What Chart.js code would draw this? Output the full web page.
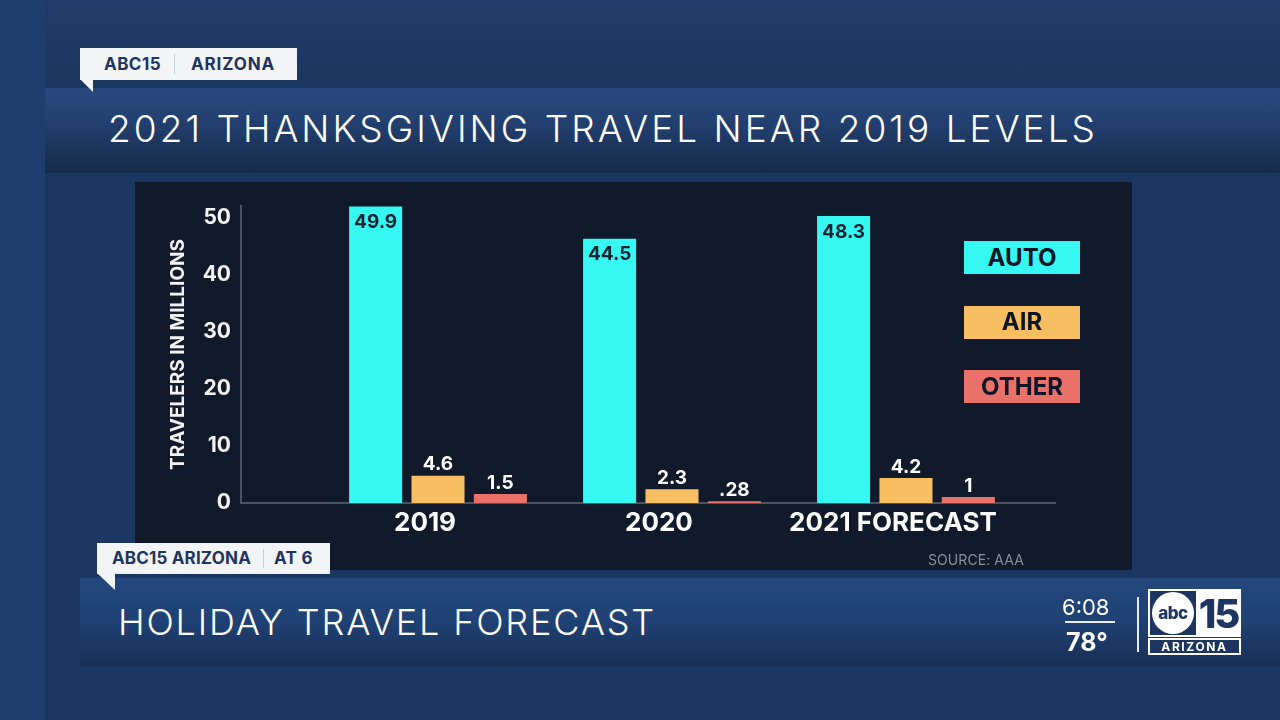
<!DOCTYPE html>
<html>
<head>
<meta charset="utf-8">
<script src="https://cdn.jsdelivr.net/npm/chart.js@4"></script>
<style>
  html, body { margin: 0; padding: 0; }
  body { width: 1280px; height: 720px; overflow: hidden; position: relative; background: #1b3660; font-family: Inter, "Open Sans", sans-serif; }
  .abs { position: absolute; }
  .txt { white-space: nowrap; line-height: 1; }
  #leftStrip { left: 0; top: 0; width: 45px; height: 720px; background: #1d3e6e; }
  #topPanel { left: 45px; top: 0; width: 1235px; height: 88px; background: linear-gradient(#1f3c6a, #1c375f); }
  #titleBar { left: 45px; top: 88px; width: 1235px; height: 85px; background: linear-gradient(#29497f 0%, #213e6d 45%, #172a47 100%); }
  #title { left: 108px; top: 110px; color: #fff; font-weight: 300; font-size: 37px; }
  .tag { background: #f3f4f6; color: #1f3460; font-weight: 700; font-size: 17px; display: flex; align-items: center; }
  .tail { background: #f3f4f6; }
  .sep { width: 1px; background: #c8ccd4; align-self: stretch; margin: 6px 0; }
  #panel { left: 135px; top: 182px; width: 997px; height: 388px; background: #111a2a; }
  #chartWrap { left: 135px; top: 182px; width: 997px; height: 388px; }
  .legendBox { width: 116px; height: 33px; display: flex; align-items: center; justify-content: center; color: #0e1526; font-weight: 700; font-size: 24px; line-height: 1; }
  #source { left: 928px; top: 553px; color: #8a909b; font-size: 14px; }
  #lowerBar { left: 80px; top: 578px; width: 1200px; height: 88px; background: linear-gradient(#24487d 0%, #1f4173 50%, #182f55 100%); }
  #lowerTitle { left: 118px; top: 604px; color: #fff; font-weight: 300; font-size: 36px; }
  #clock { left: 1062px; top: 596px; color: #fff; font-size: 22px; font-weight: 400; }
  #clockLine { left: 1065px; top: 621px; width: 50px; height: 2px; background: #e8ecf2; }
  #temp { left: 1066px; top: 630px; color: #fff; font-size: 25px; font-weight: 700; }
  #divider { left: 1137px; top: 597px; width: 2px; height: 55px; background: #e8ecf2; }
  #logoTop { left: 1148px; top: 589px; width: 93px; height: 48px; background: #fff; }
  #logoSq { left: 1150px; top: 591px; width: 46px; height: 44px; background: #1d3560; }
  #logoCircle { left: 1152px; top: 592px; width: 42px; height: 42px; border-radius: 50%; background: #fff; color: #1d3560; font-weight: 800; font-size: 17px; display: flex; align-items: center; justify-content: center; letter-spacing: -0.5px; }
  #logo15 { left: 1196px; top: 591px; width: 45px; height: 44px; color: #1d3560; font-weight: 800; font-size: 40px; display: flex; align-items: center; justify-content: center; letter-spacing: -2px; }
  #logoBottom { left: 1148px; top: 638px; width: 89px; height: 13px; border: 2px solid #fff; background: #1d3560; color: #fff; font-weight: 700; font-size: 12px; display: flex; align-items: center; justify-content: center; letter-spacing: 1.6px; }
</style>
</head>
<body>
<div class="abs" id="leftStrip"></div>
<div class="abs" id="topPanel"></div>
<div class="abs" id="titleBar"></div>
<div class="abs txt" id="title">2021 THANKSGIVING TRAVEL NEAR 2019 LEVELS</div>

<div class="abs tag" style="left:80px; top:48px; width:217px; height:32px;">
  <span class="txt" id="tag1a" style="margin-left:24px;">ABC15</span>
  <span class="sep" style="margin-left:13px; margin-right:16px;"></span>
  <span class="txt" id="tag1b">ARIZONA</span>
</div>
<div class="abs tail" style="left:80px; top:79px; width:13px; height:13px; clip-path: polygon(0 0, 100% 0, 100% 100%);"></div>

<div class="abs" id="panel"></div>
<div class="abs" id="chartWrap"><canvas id="myChart"></canvas></div>
<div id="legend"></div>
<div class="abs txt" id="source">SOURCE: AAA</div>

<div class="abs" id="lowerBar"></div>
<div class="abs txt" id="lowerTitle">HOLIDAY TRAVEL FORECAST</div>
<div class="abs tag" style="left:97px; top:543px; width:233px; height:31px;">
  <span class="txt" id="tag2a" style="margin-left:15px;">ABC15 ARIZONA</span>
  <span class="sep" style="margin-left:12px; margin-right:10px;"></span>
  <span class="txt" id="tag2b">AT 6</span>
</div>
<div class="abs tail" style="left:97px; top:573px; width:18px; height:17px; clip-path: polygon(0 0, 100% 0, 100% 100%);"></div>

<div class="abs txt" id="clock">6:08</div>
<div class="abs" id="clockLine"></div>
<div class="abs txt" id="temp">78°</div>
<div class="abs" id="divider"></div>
<div class="abs" id="logoTop"></div>
<div class="abs" id="logoSq"></div>
<div class="abs" id="logoCircle">abc</div>
<div class="abs" id="logo15">15</div>
<div class="abs" id="logoBottom">ARIZONA</div>

<script>
// Chart data
const categories = ['2019', '2020', '2021 FORECAST'];
const seriesNames = ['AUTO', 'AIR', 'OTHER'];
const autoValues = [49.9, 44.5, 48.3];
const airValues = [4.6, 2.3, 4.2];
const otherValues = [1.5, 0.28, 1];
const yTicks = [0, 10, 20, 30, 40, 50];

const palette = ['#36f7f1', '#f7bf62', '#ea706a'];

// stretch a text element to the width it has on screen
function fitWidth(id, target) {
    const el = document.getElementById(id);
    el.style.letterSpacing = '0px';
    const w = el.getBoundingClientRect().width;
    el.style.letterSpacing = ((target - w) / el.textContent.length) + 'px';
}
fitWidth('title', 990);
fitWidth('lowerTitle', 538);
fitWidth('tag1a', 57);
fitWidth('tag1b', 84);
fitWidth('tag2a', 139);
fitWidth('tag2b', 39);
fitWidth('source', 96);

// legend boxes on the right
const legend = document.getElementById('legend');
seriesNames.forEach((name, i) => {
    const box = document.createElement('div');
    box.className = 'abs legendBox';
    box.style.left = '964px';
    box.style.top = (241 + i * 64.5) + 'px';
    box.style.background = palette[i];
    box.textContent = name;
    legend.appendChild(box);
});

function fmtValue(v) {
    return v < 1 ? String(v).replace(/^0/, '') : String(v);
}

// numbers on the bars
const valueLabels = {
    id: 'valueLabels',
    afterDatasetsDraw(chart) {
        const ctx = chart.ctx;
        ctx.save();
        ctx.font = '700 19px Inter';
        ctx.textAlign = 'center';
        ctx.textBaseline = 'middle';
        chart.data.datasets.forEach((ds, di) => {
            chart.getDatasetMeta(di).data.forEach((bar, i) => {
                const text = fmtValue(ds.data[i].y);
                if (di === 0) {
                    ctx.fillStyle = '#0c2231';
                    ctx.fillText(text, bar.x, bar.y + 16);
                } else {
                    ctx.fillStyle = '#ffffff';
                    ctx.fillText(text, bar.x, bar.y - 11);
                }
            });
        });
        ctx.restore();
    }
};

const seriesValues = [autoValues, airValues, otherValues];

const ctx = document.getElementById('myChart').getContext('2d');
new Chart(ctx, {
    type: 'bar',
    data: {
        datasets: seriesNames.map((name, i) => ({
            label: name,
            data: seriesValues[i].map((v, j) => ({ x: j, y: v })),
            backgroundColor: palette[i],
            borderWidth: 0,
            barPercentage: 0.85,
            categoryPercentage: 0.8
        }))
    },
    options: {
        responsive: true,
        maintainAspectRatio: false,
        animation: false,
        layout: { padding: { top: 24, right: 77, left: 0, bottom: 0 } },
        scales: {
            x: {
                type: 'linear',
                offset: false,
                min: -0.842,
                max: 2.637,
                grid: { display: false, drawTicks: false, offset: false },
                border: { display: true, color: '#4a5364', width: 2 },
                afterBuildTicks: axis => { axis.ticks = categories.map((c, i) => ({ value: i })); },
                afterFit: axis => { axis.height = 67; },
                ticks: {
                    color: '#ffffff',
                    font: { family: 'Inter', weight: '700', size: 26 },
                    padding: 5,
                    labelOffset: -13,
                    maxRotation: 0,
                    callback: v => categories[v]
                }
            },
            // the bars are measured on this one
            y: {
                display: false,
                min: 0,
                max: 50
            },
            // the graphic spaces its tick labels a little tighter than its bars
            yLabels: {
                position: 'left',
                min: 0,
                max: 52,
                grid: { display: false, drawTicks: false },
                border: { display: true, color: '#4a5364', width: 2 },
                afterBuildTicks: axis => { axis.ticks = yTicks.map(v => ({ value: v })); },
                afterFit: axis => { axis.width = 106; },
                ticks: {
                    color: '#f2f2f2',
                    font: { family: 'Inter', weight: '700', size: 21 },
                    padding: 10
                },
                title: {
                    display: true,
                    text: 'TRAVELERS IN MILLIONS',
                    color: '#f2f2f2',
                    font: { family: 'Inter', weight: '700', size: 19 },
                    padding: { top: 32, bottom: 0 }
                }
            }
        },
        plugins: {
            legend: { display: false },
            tooltip: { enabled: false }
        }
    },
    plugins: [valueLabels]
});
</script>
</body>
</html>
